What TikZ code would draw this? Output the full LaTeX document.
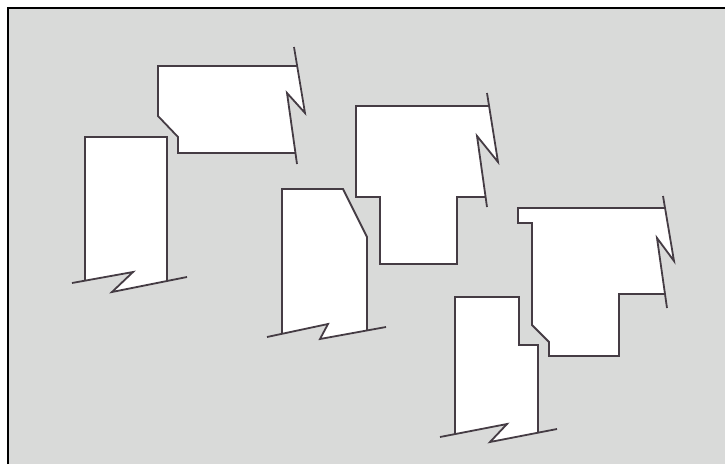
\documentclass[tikz,border=0pt]{standalone}
\begin{document}
\begin{tikzpicture}[x=1pt,y=-1pt,
  pfill/.style={fill=white},
  piece/.style={draw=edgecol,line width=1.8pt,line join=miter},
  brk/.style={draw=edgecol,line width=1.8pt,line join=miter}]
\definecolor{edgecol}{HTML}{453C44}
\definecolor{bgcol}{HTML}{D9DAD9}
\useasboundingbox (0,0) rectangle (725,464);
\fill[white] (0,0) rectangle (725,464);
\fill[bgcol] (8,8) rectangle (725,464);
\draw[black,line width=2.2pt] (8,464) -- (8,8) -- (725,8);
% piece 1: tall rectangle left
\path[pfill] (85,280.7) -- (85,137) -- (167,137) -- (167,281) -- (112,292) -- (133,272) -- cycle;
\path[piece] (85,280.7) -- (85,137) -- (167,137) -- (167,281);
\path[brk] (72,283) -- (133,272) -- (112,292) -- (187,277);
% piece 2: top wide piece
\path[pfill] (297.2,66) -- (158,66) -- (158,116) -- (178,137) -- (178,153) -- (295.4,153) -- (287,93) -- (305,113) -- cycle;
\path[piece] (297.2,66) -- (158,66) -- (158,116) -- (178,137) -- (178,153) -- (295.4,153);
\path[brk] (294,47) -- (305,113) -- (287,93) -- (297,164);
% piece 3: centre tall with bevel
\path[pfill] (282,333.8) -- (282,189) -- (343,189) -- (367,237) -- (367,330.5) -- (320,339) -- (328,324) -- cycle;
\path[piece] (282,333.8) -- (282,189) -- (343,189) -- (367,237) -- (367,330.5);
\path[brk] (267,337) -- (328,324) -- (320,339) -- (386,327);
% piece 4: T-shaped
\path[pfill] (489.1,106) -- (356,106) -- (356,197) -- (380,197) -- (380,264) -- (457,264) -- (457,197) -- (485.6,197) -- (477,136) -- (498,162) -- cycle;
\path[piece] (489.1,106) -- (356,106) -- (356,197) -- (380,197) -- (380,264) -- (457,264) -- (457,197) -- (485.6,197);
\path[brk] (487,93) -- (498,162) -- (477,136) -- (487,207);
% piece 5: right piece
\path[pfill] (665,208) -- (518,208) -- (518,223) -- (532,223) -- (532,325) -- (549,342) -- (549,356) -- (619,356) -- (619,294) -- (665,294) -- (657,238) -- (674,261) -- cycle;
\path[piece] (665,208) -- (518,208) -- (518,223) -- (532,223) -- (532,325) -- (549,342) -- (549,356) -- (619,356) -- (619,294) -- (665,294);
\path[brk] (663,196) -- (674,261) -- (657,238) -- (667,308);
% piece 6: bottom notched
\path[pfill] (455,434.1) -- (455,297) -- (519,297) -- (519,345) -- (538,345) -- (538,432.7) -- (490,442) -- (507,424) -- cycle;
\path[piece] (455,434.1) -- (455,297) -- (519,297) -- (519,345) -- (538,345) -- (538,432.7);
\path[brk] (440,437) -- (507,424) -- (490,442) -- (557,429);
\end{tikzpicture}
\end{document}
